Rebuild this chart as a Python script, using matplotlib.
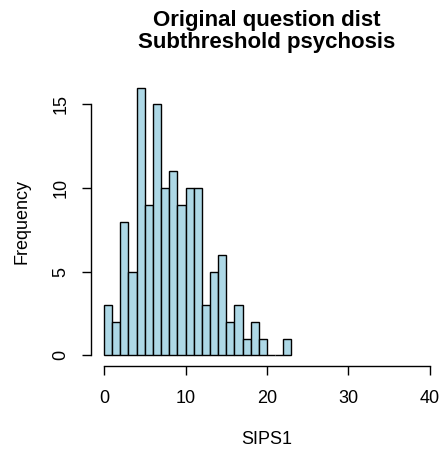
import numpy as np
import matplotlib
matplotlib.use("Agg")
import matplotlib.pyplot as plt

plt.rcParams['font.family'] = ['Liberation Sans', 'DejaVu Sans']

# histogram of SIPS1, bin width 1 starting at 0
bin_left = np.arange(0, 23)
counts = [3, 2, 8, 5, 16, 9, 15, 10, 11, 9, 10, 10, 3, 5, 6, 2, 3, 1, 2, 1, 0, 0, 1]
xticks = [0, 10, 20, 30, 40]
yticks = [0, 5, 10, 15]

W, H = 443, 454
x0, x1, ytop, ybot = 91, 443, 77, 366
fig = plt.figure(figsize=(W / 100, H / 100), dpi=100)
ax = fig.add_axes([x0 / W, (H - ybot) / H, (x1 - x0) / W, (ybot - ytop) / H])

ax.bar(bin_left, counts, width=1, align='edge', color='#ADD8E6',
       edgecolor='black', linewidth=1.0)

ax.set_xlim(-1.6, 41.6)
ax.set_ylim(-0.64, 16.64)
for s in ['top', 'right']:
    ax.spines[s].set_visible(False)
ax.spines['left'].set_bounds(0, 15)
ax.spines['bottom'].set_bounds(0, 40)
ax.spines['left'].set_linewidth(1.0)
ax.spines['bottom'].set_linewidth(1.0)

ax.set_xticks(xticks)
ax.set_yticks(yticks)
ax.tick_params(length=6.5, width=1.0, labelsize=13)
ax.tick_params(axis='x', pad=11)
ax.tick_params(axis='y', pad=9)
for lab in ax.get_yticklabels():
    lab.set_rotation(90)
    lab.set_va('center')

ax.set_xlabel('SIPS1', fontsize=13, va='center')
ax.xaxis.set_label_coords(0.5, (ybot - 440) / (ybot - ytop))
ax.set_ylabel('Frequency', fontsize=13, va='center')
ax.yaxis.set_label_coords((22 - x0) / (x1 - x0), 0.5)
fig.text((x0 + x1) / 2 / W, 1 - 31.5 / H, 'Original question dist\nSubthreshold psychosis',
         ha='center', va='center', fontsize=16, fontweight='bold',
         linespacing=1.1)

fig.savefig('out.png', dpi=100)
